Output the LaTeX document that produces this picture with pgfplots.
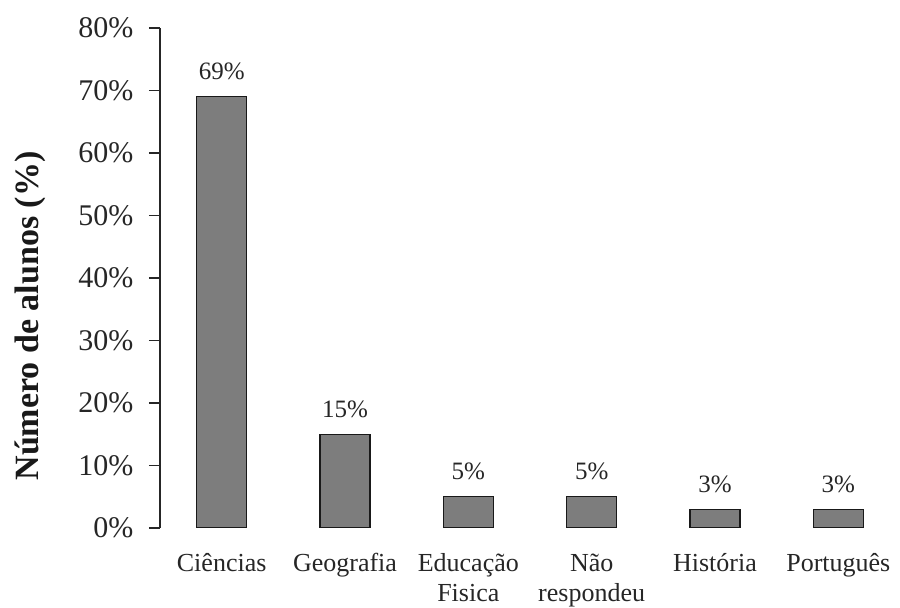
\documentclass[border=0pt]{standalone}
\usepackage{fontspec}
\setmainfont{Liberation Serif}
\usepackage{pgfplots}
\pgfplotsset{compat=1.18}
\definecolor{barfill}{RGB}{125,125,125}
\begin{document}
\begin{tikzpicture}
\path[use as bounding box] (0,0) rectangle (900pt,608pt);
\begin{axis}[
  at={(160pt,80pt)}, anchor=south west,
  width=740pt, height=500pt, scale only axis,
  xmin=-0.5, xmax=5.5, ymin=0, ymax=80,
  axis x line*=bottom, axis y line*=left,
  x axis line style={draw=none},
  y axis line style={-, line width=1.1pt, black!85},
  xtick={0,...,5},
  xticklabels={Ciências, Geografia, Educação\\Fisica, Não\\respondeu, História, Português},
  xtick style={draw=none},
  xticklabel style={align=center, font=\fontsize{26}{30}\selectfont, yshift=-11pt, text=black!85},
  ytick={0,10,...,80},
  yticklabels={0\%,10\%,20\%,30\%,40\%,50\%,60\%,70\%,80\%},
  yticklabel style={font=\fontsize{30}{34}\selectfont, text=black!85, xshift=-12pt},
  ytick style={line width=1.1pt, black!85},
  tick align=outside, major tick length=11pt,
  ylabel={\textbf{Número de alunos (\%)}},
  ylabel style={at={(axis description cs:-0.1757,0.424)}, anchor=center, font=\fontsize{34}{38}\selectfont, text=black!90},
  /pgf/number format/assume math mode=true,
  nodes near coords={\pgfmathprintnumber{\pgfplotspointmeta}\%},
  every node near coord/.append style={font=\fontsize{25}{29}\selectfont, anchor=south, inner sep=0pt, yshift=16pt, text=black!85},
]
\addplot[ybar, bar width=50pt, fill=barfill, draw=black!90, line width=1.4pt]
  coordinates {(0,69) (1,15) (2,5) (3,5) (4,3) (5,3)};
\end{axis}
\end{tikzpicture}
\end{document}
